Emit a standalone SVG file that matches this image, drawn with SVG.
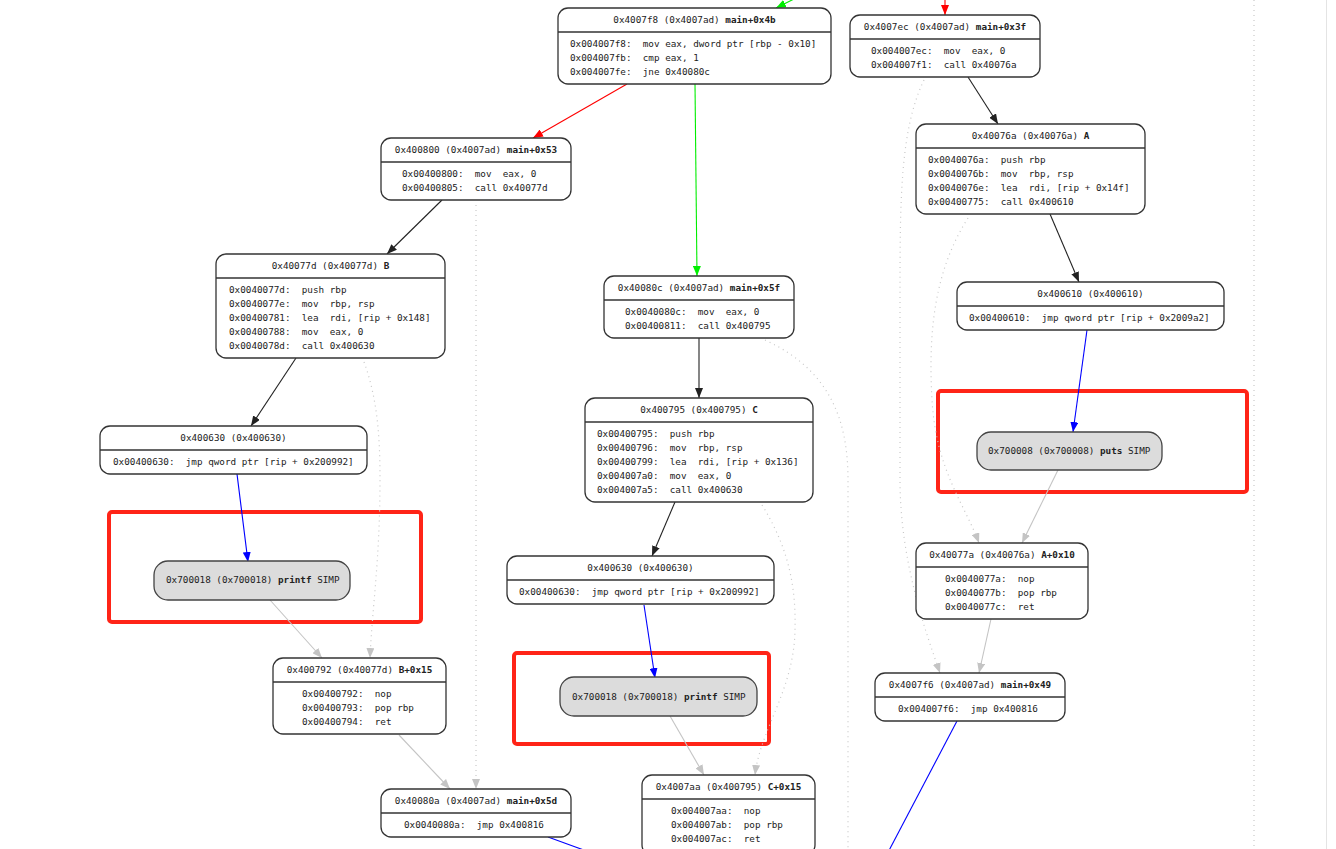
<svg xmlns="http://www.w3.org/2000/svg" width="1336" height="849" viewBox="0 0 1336 849">
<style>
text{font-family:"DejaVu Sans Mono","Liberation Mono",monospace;font-size:9.3px;fill:#222;white-space:pre}
.b{font-weight:bold}
.t{text-anchor:middle}
.box{fill:#fff;stroke:#333;stroke-width:1.3}
.sep{stroke:#333;stroke-width:1.3}
.sim{fill:#dcdcdc;stroke:#444;stroke-width:1.3}
.red{fill:none;stroke:#ff2417;stroke-width:4}
.e{fill:none;stroke-width:1.1}
.k{stroke:#222}.r{stroke:#ff0000}.g{stroke:#00ee00}.bl{stroke:#0000ff}.gr{stroke:#c4c4c4}
.d{stroke:#c8c8c8;stroke-dasharray:1 4;stroke-width:1.2}
</style>
<defs>
<marker id="ak" markerUnits="userSpaceOnUse" markerWidth="10" markerHeight="8" refX="10" refY="4" orient="auto"><path d="M0,0L10,4L0,8z" fill="#222"/></marker>
<marker id="ar" markerUnits="userSpaceOnUse" markerWidth="10" markerHeight="8" refX="10" refY="4" orient="auto"><path d="M0,0L10,4L0,8z" fill="#ff0000"/></marker>
<marker id="ag" markerUnits="userSpaceOnUse" markerWidth="10" markerHeight="8" refX="10" refY="4" orient="auto"><path d="M0,0L10,4L0,8z" fill="#00ee00"/></marker>
<marker id="ab" markerUnits="userSpaceOnUse" markerWidth="10" markerHeight="8" refX="10" refY="4" orient="auto"><path d="M0,0L10,4L0,8z" fill="#0000ff"/></marker>
<marker id="agr" markerUnits="userSpaceOnUse" markerWidth="10" markerHeight="8" refX="10" refY="4" orient="auto"><path d="M0,0L10,4L0,8z" fill="#c4c4c4"/></marker>
</defs>
<rect width="1336" height="849" fill="#fff"/>
<line x1="1326.5" y1="0" x2="1326.5" y2="849" stroke="#e4e4e4" stroke-width="1"/>
<line x1="1254" y1="0" x2="1254" y2="849" class="d"/>

<g id="red-boxes">
<rect class="red" x="109" y="512" width="312" height="110" rx="3"/>
<rect class="red" x="514" y="653" width="255" height="91" rx="3"/>
<rect class="red" x="938" y="391" width="309" height="101" rx="3"/>
</g>

<g id="connectors">
<path class="e g" d="M800,-4 L776,8" marker-end="url(#ag)"/>
<path class="e r" d="M945,-2 L945,15" marker-end="url(#ar)"/>
<path class="e r" d="M627,84 L533,138" marker-end="url(#ar)"/>
<path class="e g" d="M695,84 L697,276" marker-end="url(#ag)"/>
<path class="e k" d="M968,77 L998,124" marker-end="url(#ak)"/>
<path class="e k" d="M442,200 L387,254" marker-end="url(#ak)"/>
<path class="e k" d="M1050,214 L1079,282" marker-end="url(#ak)"/>
<path class="e k" d="M296,358 L251,426" marker-end="url(#ak)"/>
<path class="e k" d="M699,338 L699,398" marker-end="url(#ak)"/>
<path class="e k" d="M675,502 L652,556" marker-end="url(#ak)"/>
<path class="e bl" d="M1087,330 L1073,432" marker-end="url(#ab)"/>
<path class="e bl" d="M237,474 L248,562" marker-end="url(#ab)"/>
<path class="e bl" d="M644,605 L655,678" marker-end="url(#ab)"/>
<path class="e gr" d="M1058,470 L1022,543" marker-end="url(#agr)"/>
<path class="e gr" d="M991,619 L979,673" marker-end="url(#agr)"/>
<path class="e gr" d="M270,600 L322,658" marker-end="url(#agr)"/>
<path class="e gr" d="M399,735 L450,789" marker-end="url(#agr)"/>
<path class="e gr" d="M670,716 L704,775" marker-end="url(#agr)"/>
<path class="e bl" d="M957,721 L884,860"/>
<path class="e bl" d="M548,837 L592,853"/>
<path class="e d" d="M968,218 C935,270 928,330 932,400 C936,470 965,505 979,543" marker-end="url(#agr)"/>
<path class="e d" d="M924,80 C900,130 900,200 900,300 L900,480 C900,560 925,630 940,673" marker-end="url(#agr)"/>
<path class="e d" d="M364,362 C378,400 380,440 380,480 C380,560 372,610 370,658" marker-end="url(#agr)"/>
<path class="e d" d="M476,205 L476,789" marker-end="url(#agr)"/>
<path class="e d" d="M762,505 C790,550 796,590 795,630 C794,690 760,730 755,775" marker-end="url(#agr)"/>
<path class="e d" d="M765,340 C830,370 848,420 848,480 L848,849"/>
</g>

<g id="n-main4b">
<rect class="box" x="558" y="8" width="273" height="76" rx="10"/>
<line class="sep" x1="558" y1="32" x2="831" y2="32"/>
<text class="t" x="694.5" y="23">0x4007f8 (0x4007ad) <tspan class="b">main+0x4b</tspan></text>
<text x="570" y="47">0x004007f8:  mov eax, dword ptr [rbp - 0x10]</text>
<text x="570" y="61">0x004007fb:  cmp eax, 1</text>
<text x="570" y="75">0x004007fe:  jne 0x40080c</text>
</g>

<g id="n-main3f">
<rect class="box" x="850" y="15" width="190" height="62" rx="10"/>
<line class="sep" x1="850" y1="39" x2="1040" y2="39"/>
<text class="t" x="945" y="30">0x4007ec (0x4007ad) <tspan class="b">main+0x3f</tspan></text>
<text x="871" y="54">0x004007ec:  mov  eax, 0</text>
<text x="871" y="68">0x004007f1:  call 0x40076a</text>
</g>

<g id="n-main53">
<rect class="box" x="381" y="138" width="190" height="62" rx="10"/>
<line class="sep" x1="381" y1="162" x2="571" y2="162"/>
<text class="t" x="476" y="153">0x400800 (0x4007ad) <tspan class="b">main+0x53</tspan></text>
<text x="402" y="177">0x00400800:  mov  eax, 0</text>
<text x="402" y="191">0x00400805:  call 0x40077d</text>
</g>

<g id="n-A">
<rect class="box" x="916" y="124" width="229" height="90" rx="10"/>
<line class="sep" x1="916" y1="148" x2="1145" y2="148"/>
<text class="t" x="1030.5" y="139">0x40076a (0x40076a) <tspan class="b">A</tspan></text>
<text x="928" y="163">0x0040076a:  push rbp</text>
<text x="928" y="177">0x0040076b:  mov  rbp, rsp</text>
<text x="928" y="191">0x0040076e:  lea  rdi, [rip + 0x14f]</text>
<text x="928" y="205">0x00400775:  call 0x400610</text>
</g>

<g id="n-B">
<rect class="box" x="216" y="254" width="229" height="104" rx="10"/>
<line class="sep" x1="216" y1="278" x2="445" y2="278"/>
<text class="t" x="330.5" y="269">0x40077d (0x40077d) <tspan class="b">B</tspan></text>
<text x="229" y="293">0x0040077d:  push rbp</text>
<text x="229" y="307">0x0040077e:  mov  rbp, rsp</text>
<text x="229" y="321">0x00400781:  lea  rdi, [rip + 0x148]</text>
<text x="229" y="335">0x00400788:  mov  eax, 0</text>
<text x="229" y="349">0x0040078d:  call 0x400630</text>
</g>

<g id="n-main5f">
<rect class="box" x="604" y="276" width="190" height="62" rx="10"/>
<line class="sep" x1="604" y1="300" x2="794" y2="300"/>
<text class="t" x="699" y="291">0x40080c (0x4007ad) <tspan class="b">main+0x5f</tspan></text>
<text x="625" y="315">0x0040080c:  mov  eax, 0</text>
<text x="625" y="329">0x00400811:  call 0x400795</text>
</g>

<g id="n-400610">
<rect class="box" x="957" y="282" width="267" height="48" rx="10"/>
<line class="sep" x1="957" y1="306" x2="1224" y2="306"/>
<text class="t" x="1090.5" y="297">0x400610 (0x400610)</text>
<text x="969" y="321">0x00400610:  jmp qword ptr [rip + 0x2009a2]</text>
</g>

<g id="n-400630-left">
<rect class="box" x="100" y="426" width="267" height="48" rx="10"/>
<line class="sep" x1="100" y1="450" x2="367" y2="450"/>
<text class="t" x="233.5" y="441">0x400630 (0x400630)</text>
<text x="113" y="465">0x00400630:  jmp qword ptr [rip + 0x200992]</text>
</g>

<g id="n-C">
<rect class="box" x="585" y="398" width="228" height="104" rx="10"/>
<line class="sep" x1="585" y1="422" x2="813" y2="422"/>
<text class="t" x="699" y="413">0x400795 (0x400795) <tspan class="b">C</tspan></text>
<text x="597" y="437">0x00400795:  push rbp</text>
<text x="597" y="451">0x00400796:  mov  rbp, rsp</text>
<text x="597" y="465">0x00400799:  lea  rdi, [rip + 0x136]</text>
<text x="597" y="479">0x004007a0:  mov  eax, 0</text>
<text x="597" y="493">0x004007a5:  call 0x400630</text>
</g>

<g id="n-400630-mid">
<rect class="box" x="507" y="556" width="267" height="48" rx="10"/>
<line class="sep" x1="507" y1="580" x2="774" y2="580"/>
<text class="t" x="640.5" y="571">0x400630 (0x400630)</text>
<text x="519" y="595">0x00400630:  jmp qword ptr [rip + 0x200992]</text>
</g>

<g id="n-puts">
<rect class="sim" x="977" y="432" width="185" height="38" rx="14"/>
<text x="988" y="454">0x700008 (0x700008) <tspan class="b">puts</tspan> SIMP</text>
</g>

<g id="n-printf-left">
<rect class="sim" x="154" y="561" width="196" height="39" rx="14"/>
<text x="166" y="583">0x700018 (0x700018) <tspan class="b">printf</tspan> SIMP</text>
</g>

<g id="n-printf-mid">
<rect class="sim" x="560" y="677" width="197" height="39" rx="14"/>
<text x="572" y="700">0x700018 (0x700018) <tspan class="b">printf</tspan> SIMP</text>
</g>

<g id="n-A10">
<rect class="box" x="916" y="543" width="172" height="76" rx="10"/>
<line class="sep" x1="916" y1="567" x2="1088" y2="567"/>
<text class="t" x="1002" y="558">0x40077a (0x40076a) <tspan class="b">A+0x10</tspan></text>
<text x="945" y="582">0x0040077a:  nop</text>
<text x="945" y="596">0x0040077b:  pop rbp</text>
<text x="945" y="610">0x0040077c:  ret</text>
</g>

<g id="n-main49">
<rect class="box" x="875" y="673" width="190" height="48" rx="10"/>
<line class="sep" x1="875" y1="697" x2="1065" y2="697"/>
<text class="t" x="970" y="688">0x4007f6 (0x4007ad) <tspan class="b">main+0x49</tspan></text>
<text x="898" y="712">0x004007f6:  jmp 0x400816</text>
</g>

<g id="n-B15">
<rect class="box" x="273" y="658" width="173" height="76" rx="10"/>
<line class="sep" x1="273" y1="682" x2="446" y2="682"/>
<text class="t" x="359.5" y="673">0x400792 (0x40077d) <tspan class="b">B+0x15</tspan></text>
<text x="302" y="697">0x00400792:  nop</text>
<text x="302" y="711">0x00400793:  pop rbp</text>
<text x="302" y="725">0x00400794:  ret</text>
</g>

<g id="n-main5d">
<rect class="box" x="381" y="789" width="190" height="48" rx="10"/>
<line class="sep" x1="381" y1="813" x2="571" y2="813"/>
<text class="t" x="476" y="804">0x40080a (0x4007ad) <tspan class="b">main+0x5d</tspan></text>
<text x="404" y="828">0x0040080a:  jmp 0x400816</text>
</g>

<g id="n-C15">
<rect class="box" x="642" y="775" width="173" height="80" rx="10"/>
<line class="sep" x1="642" y1="799" x2="815" y2="799"/>
<text class="t" x="728.5" y="790">0x4007aa (0x400795) <tspan class="b">C+0x15</tspan></text>
<text x="671" y="814">0x004007aa:  nop</text>
<text x="671" y="828">0x004007ab:  pop rbp</text>
<text x="671" y="842">0x004007ac:  ret</text>
</g>
</svg>
